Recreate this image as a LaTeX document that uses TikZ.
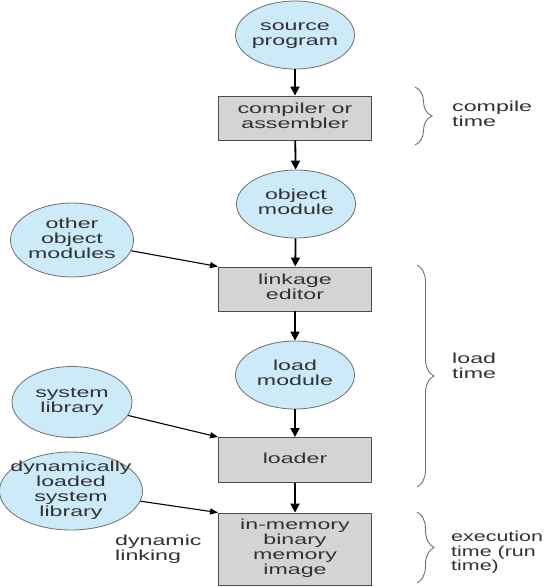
\documentclass[tikz,border=0pt]{standalone}
\usepackage{fontspec}
\setmainfont{Liberation Sans}
\usepackage{graphicx}
\usetikzlibrary{shapes.geometric,arrows.meta,decorations.pathreplacing}
\definecolor{ellfill}{RGB}{204,234,248}
\definecolor{boxfill}{RGB}{212,212,212}
\definecolor{txt}{RGB}{50,50,50}
\definecolor{edge}{RGB}{110,110,110}
\newcommand{\wt}[1]{\smash{\makebox[0pt]{\raisebox{-0.25em}{\scalebox{1.6}[1]{\begin{tabular}{@{}c@{}}#1\end{tabular}}}}}}
\newcommand{\lt}[2][1.6]{\scalebox{#1}[1]{\begin{tabular}{@{}l@{}}#2\end{tabular}}}
\begin{document}
\begin{tikzpicture}[x=1pt,y=-1pt,
 every node/.style={font=\fontsize{14.5}{14.8}\selectfont},
 ell/.style={ellipse, draw=edge, line width=0.8pt, fill=ellfill, inner sep=0pt, minimum width=119pt, minimum height=68pt, text=txt},
 proc/.style={rectangle, draw=edge!70!black, line width=0.9pt, fill=boxfill, inner sep=0pt, minimum width=153pt, minimum height=44pt, text=txt},
 flow/.style={-{Triangle[length=9pt,width=9pt]}, line width=1.8pt, black},
 side/.style={-{Triangle[length=8pt,width=6pt]}, line width=1.1pt, black},
 brc/.style={decorate, decoration={brace, amplitude=17pt, aspect=0.5}, draw=edge, line width=0.9pt},
 lbl/.style={anchor=west, text=txt, inner sep=0pt}]
\useasboundingbox (0,0) rectangle (546,587);
\clip (0,0) rectangle (546,587);
\node[ell] (src) at (295,35) {\wt{source\\program}};
\node[proc] (comp) at (295,118) {\wt{compiler or\\assembler}};
\node[ell] (obj) at (296,204) {\wt{object\\module}};
\node[ell, minimum width=123pt, minimum height=74pt] (other) at (72,240) {\wt{other\\object\\modules}};
\node[proc] (link) at (295,289) {\wt{linkage\\editor}};
\node[ell] (loadm) at (295,375) {\wt{load\\module}};
\node[ell, minimum width=120pt, minimum height=71pt] (syslib) at (72,402) {\wt{system\\library}};
\node[proc, minimum height=45pt] (loader) at (295,460) {\wt{loader}};
\node[ell, minimum width=143pt, minimum height=78pt] (dyn) at (71,491) {\wt{dynamically\\loaded\\system\\library}};
\node[proc, minimum height=72pt] (mem) at (295,549) {\wt{in-memory\\binary\\memory\\image}};
\node[lbl] (dl) at (115,550) {\lt{dynamic\\linking}};
\draw[flow] (src) -- (comp);
\draw[flow] (comp) -- (obj);
\draw[flow] (obj) -- (link);
\draw[flow] (link) -- (loadm);
\draw[flow] (loadm) -- (loader);
\draw[flow] (loader) -- (mem);
\draw[side] (other) -- (link.north west);
\draw[side] (syslib) -- (loader.north west);
\draw[side] (dyn) -- (mem.north west);
\coordinate (b1a) at (415,87); \coordinate (b1b) at (415,145);
\coordinate (b2a) at (417,265); \coordinate (b2b) at (417,487);
\coordinate (b3a) at (417,512); \coordinate (b3b) at (417,583);
\draw[brc] (b1a) -- (b1b);
\draw[brc] (b2a) -- (b2b);
\draw[brc] (b3a) -- (b3b);
\node[lbl] (ct) at (452,116) {\lt{compile\\time}};
\node[lbl] (lt) at (452,368) {\lt{load\\time}};
\node[lbl] (et) at (451,553) {\lt[1.48]{execution\\time (run\\time)}};
\end{tikzpicture}
\end{document}
